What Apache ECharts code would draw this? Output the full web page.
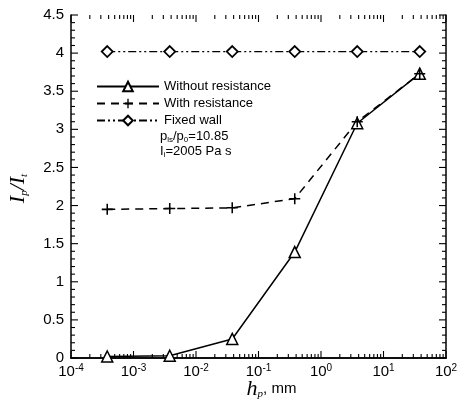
<!DOCTYPE html>
<html><head><meta charset="utf-8">
<script src="https://cdn.jsdelivr.net/npm/echarts@6/dist/echarts.min.js"></script>
<style>html,body{margin:0;padding:0;background:#fff}#c{width:458px;height:404px}</style>
</head><body><div id="c"></div>
<script>
const hp = [3.8e-4, 3.8e-3, 3.8e-2, 0.38, 3.8, 38];
const withoutRes = [0.02, 0.03, 0.25, 1.39, 3.08, 3.73];
const withRes = [1.95, 1.96, 1.97, 2.09, 3.1, 3.73];
const fixedWall = [4.02, 4.02, 4.02, 4.02, 4.02, 4.02];
const xMin = 1e-4, xMax = 100;
const yMin = 0, yMax = 4.5, yStep = 0.5;

// axis tick positions (x: decades + 2..9 minor; y: 0.5 major, 0.1 minor)
const xTicks = [];
for (let e = -4; e <= 2; e++) {
  xTicks.push([Math.pow(10, e), 7]);
  if (e < 2) for (let m = 2; m <= 9; m++) xTicks.push([m * Math.pow(10, e), 4]);
}
const yTicks = [];
for (let k = 0; k <= 45; k++) yTicks.push([k / 10, k % 5 === 0 ? 7 : 4]);

const font = '"Liberation Sans", Arial, sans-serif';
const serif = '"Liberation Serif", "Times New Roman", serif';
const chart = echarts.init(document.getElementById('c'));
const pair = arr => hp.map((x, i) => [x, arr[i]]);
const plusPath = 'path://M-0.7,-5h1.4v4.3h4.3v1.4h-4.3v4.3h-1.4v-4.3h-4.3v-1.4h4.3z';

const xAxisBase = {
  type: 'log', logBase: 10, min: xMin, max: xMax,
  axisLine: {show: true, lineStyle: {color: '#000', width: 1.5}},
  axisTick: {show: false}, splitLine: {show: false}
};
const yAxisBase = {
  type: 'value', min: yMin, max: yMax, interval: yStep,
  axisLine: {show: true, lineStyle: {color: '#000', width: 1.5}},
  axisTick: {show: false}, splitLine: {show: false}
};

const tickSeries = (ticks, isX) => ({
  type: 'custom', silent: true, z: 2, data: ticks, legendHoverLink: false,
  renderItem: (params, api) => {
    const v = api.value(0), len = api.value(1);
    const st = {stroke: '#000', lineWidth: 1.1};
    let a, b;
    if (isX) {
      a = api.coord([v, yMin]); b = api.coord([v, yMax]);
      return {type: 'group', children: [
        {type: 'line', shape: {x1: a[0], y1: a[1], x2: a[0], y2: a[1] - len}, style: st},
        {type: 'line', shape: {x1: b[0], y1: b[1], x2: b[0], y2: b[1] + len}, style: st}
      ]};
    }
    a = api.coord([xMin, v]); b = api.coord([xMax, v]);
    return {type: 'group', children: [
      {type: 'line', shape: {x1: a[0], y1: a[1], x2: a[0] + len, y2: a[1]}, style: st},
      {type: 'line', shape: {x1: b[0], y1: b[1], x2: b[0] - len, y2: b[1]}, style: st}
    ]};
  }
});

chart.setOption({
  animation: false,
  grid: {left: 71, right: 12, top: 15, bottom: 46, containLabel: false, outerBoundsMode: 'none'},
  xAxis: [
    Object.assign({}, xAxisBase, {
      position: 'bottom',
      axisLabel: {
        margin: 5, color: '#000', fontFamily: font, fontSize: 15,
        formatter: v => '{b|10}{s|' + Math.round(Math.log10(v)) + '}',
        rich: {b: {fontSize: 15, fontFamily: font, color: '#000'},
               s: {fontSize: 10, fontFamily: font, color: '#000', verticalAlign: 'top', padding: [0, 0, 8, 0]}}
      },
      name: '{h|h}{p|p}{t|, mm}', nameLocation: 'middle', nameGap: 20, nameMoveOverlap: false,
      nameTextStyle: {
        padding: [0, 0, 0, 26],
        rich: {h: {fontFamily: serif, fontStyle: 'italic', fontSize: 22, color: '#000'},
               p: {fontFamily: serif, fontStyle: 'italic', fontSize: 11, color: '#000', padding: [10, 0, 0, 0]},
               t: {fontFamily: font, fontSize: 15, color: '#000'}}
      }
    }),
    Object.assign({}, xAxisBase, {position: 'top', axisLabel: {show: false}})
  ],
  yAxis: [
    Object.assign({}, yAxisBase, {
      position: 'left',
      axisLabel: {margin: 7, color: '#000', fontFamily: font, fontSize: 15, formatter: v => String(v)},
      name: '{i|I}{p|p}{i|/I}{p|t}', nameLocation: 'middle', nameGap: 41, nameRotate: 90, nameMoveOverlap: false,
      nameTextStyle: {
        padding: [0, 4, 0, 0],
        rich: {i: {fontFamily: serif, fontStyle: 'italic', fontSize: 22, color: '#000'},
               p: {fontFamily: serif, fontStyle: 'italic', fontSize: 11, color: '#000', padding: [12, 0, 0, 0]}}
      }
    }),
    Object.assign({}, yAxisBase, {position: 'right', axisLabel: {show: false}})
  ],
  legend: {
    orient: 'vertical', left: 91, top: 75, itemWidth: 62, itemHeight: 12, itemGap: 4,
    textStyle: {fontFamily: font, fontSize: 13, color: '#000'},
    data: ['Without resistance', 'With resistance', 'Fixed wall']
  },
  graphic: [
    {type: 'text', left: 160, top: 130, style: {
      text: '{n|p}{s|ls}{n|/p}{s|0}{n|=10.85}',
      rich: {n: {fontFamily: font, fontSize: 13, fill: '#000'}, s: {fontFamily: font, fontSize: 8, fill: '#000', padding: [6, 0, 0, 0]}}
    }},
    {type: 'text', left: 160, top: 145, style: {
      text: '{n|I}{s|i}{n|=2005 Pa s}',
      rich: {n: {fontFamily: font, fontSize: 13, fill: '#000'}, s: {fontFamily: font, fontSize: 8, fill: '#000', padding: [6, 0, 0, 0]}}
    }}
  ],
  series: [
    {name: 'Without resistance', type: 'line', data: pair(withoutRes),
     symbol: 'triangle', symbolSize: 11, showAllSymbol: true,
     lineStyle: {color: '#000', width: 1.5, type: 'solid'},
     itemStyle: {color: '#fff', borderColor: '#000', borderWidth: 1.5}, z: 3},
    {name: 'With resistance', type: 'line', data: pair(withRes),
     symbol: plusPath, symbolSize: 11,
     lineStyle: {color: '#000', width: 1.5, type: [8, 6]},
     itemStyle: {color: '#000', borderColor: '#000', borderWidth: 0}, z: 3},
    {name: 'Fixed wall', type: 'line', data: pair(fixedWall),
     symbol: 'diamond', symbolSize: 11,
     lineStyle: {color: '#000', width: 1.2, type: [8, 3, 2, 3, 2, 3]},
     itemStyle: {color: '#fff', borderColor: '#000', borderWidth: 1.8}, z: 3},
    tickSeries(xTicks, true),
    tickSeries(yTicks, false)
  ]
});
</script></body></html>
